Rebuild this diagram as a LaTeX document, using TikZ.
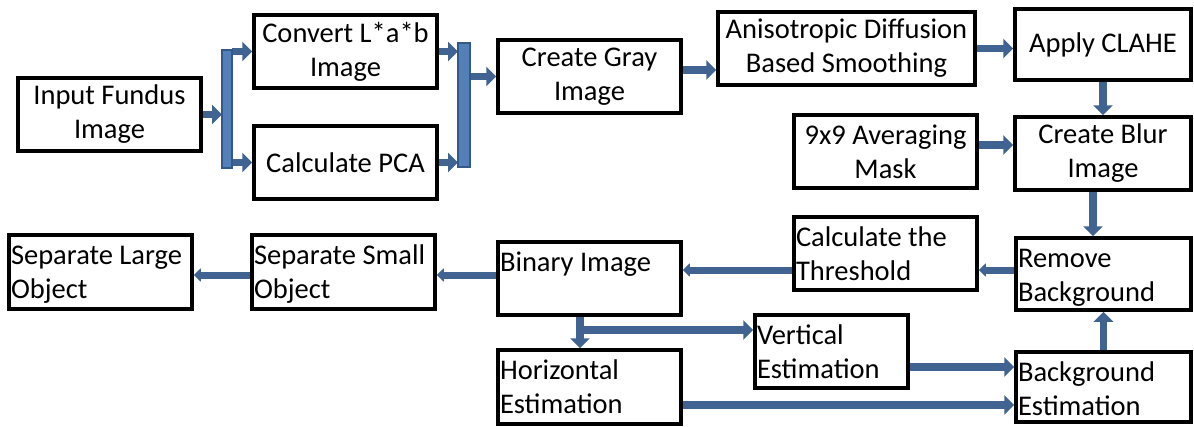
\documentclass[tikz,border=0pt]{standalone}
\usepackage{fontspec}
\setmainfont{Carlito}
\usetikzlibrary{arrows.meta}
\definecolor{flow}{RGB}{64,99,145}
\definecolor{barfill}{RGB}{84,128,186}
\definecolor{baredge}{RGB}{52,88,135}
% text block set flush left from the top of a box
\newcommand{\topleft}[3]{\parbox[c][#2][t]{#1}{\raggedright\rule{0pt}{29pt}#3}}
\begin{document}
\begin{tikzpicture}[x=1pt,y=-1pt,
  box/.style={draw=black, line width=3.5pt, inner sep=0pt,
    minimum width=183pt, minimum height=73pt,
    font=\fontsize{28.5}{34}\selectfont},
  cbox/.style={box, align=center},
  conn/.style={draw=flow, line width=7.5pt, -{Triangle[length=10pt,width=19pt]}},
  back/.style={draw=flow, line width=7pt, -{Triangle[length=7pt,width=13pt]}},
  bar/.style={draw=baredge, fill=barfill, line width=1.5pt, inner sep=0pt}]
\useasboundingbox (0,0) rectangle (1194,426);

% processing steps
\node[cbox] (inp) at (109.5,114.5) {Input Fundus\\Image};
\node[cbox] (conv) at (345.5,51.5) {Convert L*a*b\\Image};
\node[cbox] (pca) at (345.5,162.5) {Calculate PCA};
\node[cbox] (gray) at (589.5,76.5) {Create Gray\\Image};
\node[cbox, minimum width=257pt] (aniso) at (846.5,48.5) {Anisotropic Diffusion\\Based Smoothing};
\node[cbox, minimum width=176pt, minimum height=71pt] (clahe) at (1103,44.5) {Apply CLAHE};
\node[cbox] (mask) at (885.5,151.5) {9x9 Averaging\\Mask};
\node[cbox, minimum width=176pt] (blur) at (1103,153.5) {Create Blur\\Image};
\node[box] (thr) at (885.5,253.5) {\topleft{179pt}{73pt}{Calculate the\\Threshold}};
\node[box, minimum width=175pt, minimum height=72pt] (rem) at (1103.5,274) {\topleft{171pt}{72pt}{Remove\\Background}};
\node[box] (bin) at (589.5,278.5) {\topleft{179pt}{73pt}{Binary Image}};
\node[box, minimum height=74pt] (small) at (343.5,272) {\topleft{179pt}{74pt}{Separate Small\\Object}};
\node[box, minimum height=74pt] (large) at (100.5,272) {\topleft{179pt}{74pt}{Separate Large\\Object}};
\node[box, minimum width=153pt] (vert) at (831.5,351.5) {\topleft{149pt}{73pt}{Vertical\\Estimation}};
\node[box, minimum height=74pt] (horiz) at (589.5,387) {\topleft{179pt}{74pt}{Horizontal\\Estimation}};
\node[box, minimum width=175pt, minimum height=70pt] (bg) at (1103.5,387) {\topleft{171pt}{70pt}{Background\\Estimation}};

% split and merge of the two colour branches
\draw[conn] (inp.east) -- (inp.east -| 222,0);
\draw[conn] (232,0 |- conv.west) -- (conv.west);
\draw[conn] (232,0 |- pca.west) -- (pca.west);
\draw[conn] (conv.east) -- (conv.east -| 458,0);
\draw[conn] (pca.east) -- (pca.east -| 458,0);
\draw[conn] (470,0 |- gray.west) -- (gray.west);
\node[bar, minimum width=10pt, minimum height=118pt] (split) at (227,109) {};
\node[bar, minimum width=12pt, minimum height=124pt] (merge) at (464,105) {};

% main chain
\draw[conn] ([yshift=6.5pt]gray.east) -- ([yshift=6.5pt]gray.east -| aniso.west);
\draw[conn] (aniso.east) -- (aniso.east -| clahe.west);
\draw[conn] (clahe.south) -- (blur.north);
\draw[conn] ([yshift=6.5pt]mask.east) -- ([yshift=6.5pt]mask.east -| blur.west);
\draw[conn] ([xshift=-10pt]blur.south) -- ([xshift=-10pt]blur.south |- rem.north);
\draw[back] ([yshift=4pt]rem.west) -- ([yshift=4pt]rem.west -| thr.east);
\draw[back] ([yshift=-16.5pt]thr.west) -- ([yshift=-16.5pt]thr.west -| bin.east);
\draw[back] ([yshift=3.5pt]bin.west) -- ([yshift=3.5pt]bin.west -| small.east);
\draw[back] ([yshift=-3pt]small.west) -- ([yshift=-3pt]small.west -| large.east);

% background estimation loop
\draw[conn] ([xshift=-9.5pt]bin.south) -- ([xshift=-9.5pt]bin.south |- horiz.north);
\coordinate (fork) at (580,330);
\draw[conn] (fork) -- (fork -| vert.west);
\draw[conn] ([yshift=-15.5pt]vert.east) -- ([yshift=-15.5pt]vert.east -| bg.west);
\draw[conn] ([yshift=-18pt]horiz.east) -- ([yshift=-18pt]horiz.east -| bg.west);
\draw[conn] (bg.north) -- (rem.south);
\end{tikzpicture}
\end{document}
